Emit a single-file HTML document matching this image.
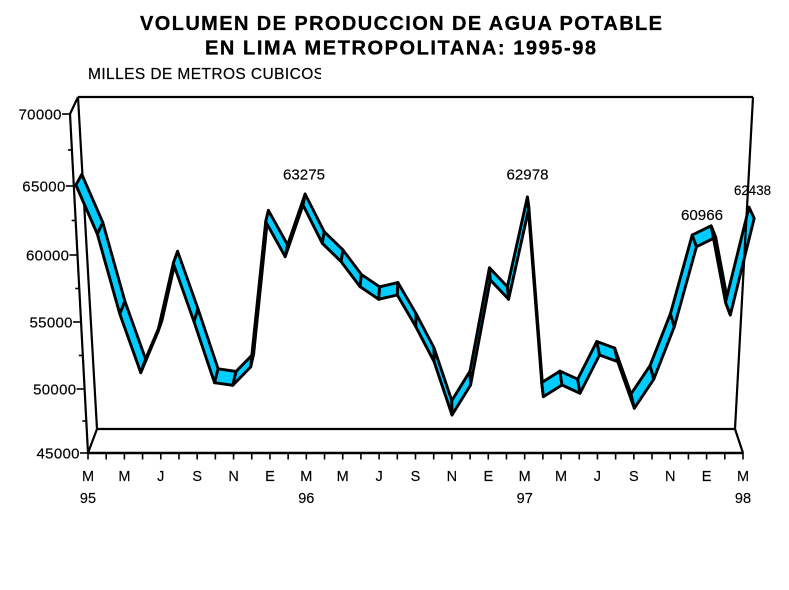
<!DOCTYPE html>
<html>
<head>
<meta charset="utf-8">
<style>
  html,body{margin:0;padding:0;background:#fff;}
  svg{display:block;}
  text{font-family:"Liberation Sans", Arial, sans-serif; fill:#000;}
</style>
</head>
<body>
<svg id="c" xmlns="http://www.w3.org/2000/svg" width="789" height="590" viewBox="0 0 789 590">
  <rect x="0" y="0" width="789" height="590" fill="#fff"/>
  <!-- Titles -->
  <text x="140" y="30" font-size="20" font-weight="bold" stroke="#000" stroke-width="0.3" textLength="522" lengthAdjust="spacing">VOLUMEN DE PRODUCCION DE AGUA POTABLE</text>
  <text x="205" y="54.5" font-size="20" font-weight="bold" stroke="#000" stroke-width="0.3" textLength="391" lengthAdjust="spacing">EN LIMA METROPOLITANA: 1995-98</text>
  <clipPath id="clipM"><rect x="80" y="60" width="241" height="30"/></clipPath>
  <text x="88" y="79" font-size="15.5" stroke="#000" stroke-width="0.2" textLength="236" lengthAdjust="spacing" clip-path="url(#clipM)">MILLES DE METROS CUBICOS</text>
  <g id="box" stroke="#000" stroke-width="2" fill="none" stroke-linejoin="miter"></g>
  <g id="ribbon"></g>
  <g id="over" stroke="#000" stroke-width="2" fill="none"></g>
  <g id="labels"></g>
</svg>
<script>
(function(){
  var NS="http://www.w3.org/2000/svg";
  function el(parent,tag,attrs,txt){
    var e=document.createElementNS(NS,tag);
    for(var k in attrs){e.setAttribute(k,attrs[k]);}
    if(txt!==undefined){e.textContent=txt;}
    parent.appendChild(e);return e;
  }
  var box=document.getElementById('box');
  var rib=document.getElementById('ribbon');
  var over=document.getElementById('over');
  var lab=document.getElementById('labels');

  function xl(y){return 70+(y-114)*18/339;}
  function xr(y){return 762-(y-114)*19/339;}

  function line(p,x1,y1,x2,y2,w){el(p,'line',{x1:x1,y1:y1,x2:x2,y2:y2,'stroke-width':w||2.2});}
  line(box,78,97,753,97);
  line(box,70,114,78,97);
  line(box,70,114,88,453);
  line(box,78,97,97,429);
  line(box,88,453,97,429);
  line(box,97,429,735,429);
  line(box,88,453,743,453,2.4);
  line(box,735,429,743,453);

  var majors=[[453,'45000'],[389,'50000'],[322,'55000'],[255,'60000'],[186,'65000'],[114,'70000']];
  var minors=[421,355.5,288.5,220.5,150];
  majors.forEach(function(m){
    var y=m[0],x=xl(y);
    line(box,x-8,y,x,y,1.6);
    el(lab,'text',{x:(x-8.5-43).toFixed(1),y:(y+5.3).toFixed(1),'font-size':'15',stroke:'#000','stroke-width':'0.15',textLength:'43',lengthAdjust:'spacing'},m[1]);
  });
  minors.forEach(function(y){var x=xl(y);line(box,x-4,y,x,y,1.6);});

  var mon=['M','M','J','S','N','E'];
  for(var i=0;i<=36;i++){
    var x=88+i*655/36;
    line(box,x,453,x,459.5,1.6);
    if(i%2===0){
      var k=i/2;
      el(lab,'text',{x:x.toFixed(1),y:'481','font-size':'14.5',stroke:'#000','stroke-width':'0.15','text-anchor':'middle'},mon[k%6]);
    }
  }
  [[0,'95'],[12,'96'],[24,'97'],[36,'98']].forEach(function(a){
    var x=88+a[0]*655/36;
    el(lab,'text',{x:x.toFixed(1),y:'503','font-size':'14.5',stroke:'#000','stroke-width':'0.15','text-anchor':'middle'},a[1]);
  });

  var yL=[185,234,314,372.7,333,263.3,321.7,382.7,385.3,367,221.7,256.7,205,
          243.3,261.7,286.7,299.3,295,326.7,361.7,415,385,280,299.3,208,
          396.7,385,393.3,355,361.7,408.3,379.3,326.7,246.7,237.3,315,218.3];
  var K=0.027,VX=435,VY=-471;
  var L=[],U=[];
  for(var i=0;i<yL.length;i++){
    var yf=(yL[i]-0.2*K*VY)/(1-0.2*K);
    var a=xl(yf),b=xr(yf);
    var xf=a+i/36*(b-a);
    L.push([xf+0.2*K*(VX-xf),yL[i]]);
    U.push([xf+0.8*K*(VX-xf),yf+0.8*K*(VY-yf)]);
  }
  function pt(p){return p[0].toFixed(1)+','+p[1].toFixed(1);}
  for(var i=0;i<yL.length-1;i++){
    el(rib,'polygon',{points:[pt(L[i]),pt(L[i+1]),pt(U[i+1]),pt(U[i])].join(' '),
      fill:'#00CCFF',stroke:'#000','stroke-width':'2.9','stroke-linejoin':'round'});
  }

  line(over,753,97,735,429);

  el(lab,'text',{x:283,y:'179.3','font-size':'14.5',stroke:'#000','stroke-width':'0.15',textLength:'42',lengthAdjust:'spacingAndGlyphs'},'63275');
  el(lab,'text',{x:506.5,y:'179.3','font-size':'14.5',stroke:'#000','stroke-width':'0.15',textLength:'42',lengthAdjust:'spacingAndGlyphs'},'62978');
  el(lab,'text',{x:681,y:'220','font-size':'14.5',stroke:'#000','stroke-width':'0.15',textLength:'42',lengthAdjust:'spacingAndGlyphs'},'60966');
  el(lab,'text',{x:734,y:'195','font-size':'13.5',stroke:'#000','stroke-width':'0.15',textLength:'37',lengthAdjust:'spacingAndGlyphs'},'62438');
})();
</script>
</body>
</html>
